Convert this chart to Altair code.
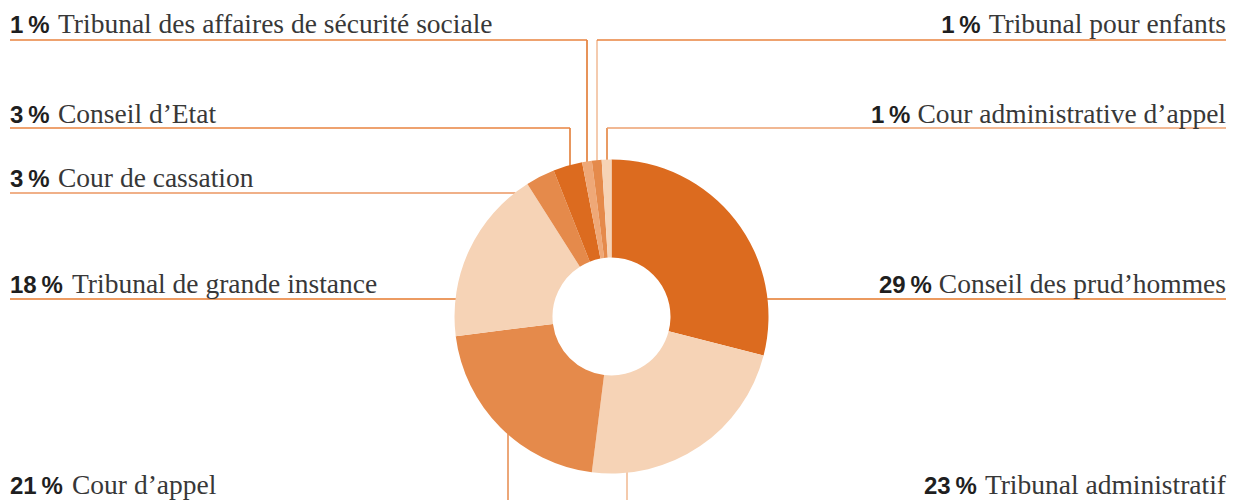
import math
import altair as alt
import pandas as pd

# ---------------- data ----------------
names = [
    "Conseil des prud’hommes",
    "Tribunal administratif",
    "Cour d’appel",
    "Tribunal de grande instance",
    "Cour de cassation",
    "Conseil d’Etat",
    "Tribunal des affaires de sécurité sociale",
    "Tribunal pour enfants",
    "Cour administrative d’appel",
]
pcts = [29, 23, 21, 18, 3, 3, 1, 1, 1]
slice_colors = ["#DC6B1F", "#F6D3B6", "#E58A4B", "#F6D3B6", "#E58A4B",
                "#DC6B1F", "#EFA877", "#E58A4B", "#F6D3B6"]

# ---------------- layout (page pixels) ----------------
CX, CY, R_OUT, R_IN = 611.5, 316.5, 157, 59
LEFT_X, RIGHT_X = 10, 1226
side = ["right", "right", "left", "left", "left", "left", "left", "right", "right"]
text_base = [293, 494, 494, 293, 187, 123, 33, 33, 123]
line_y = [299, 502, 502, 299, 193, 128, 40, 40, 128]
vert_x = [None, 627, 508, None, None, 570, 587, 597, 607]
h_colors = ["#E5782A", "#F1B68C", "#E68A4C", "#E67A2E", "#EB9660",
            "#E8833F", "#E8833F", "#E8833F", "#EDA06F"]
v_colors = ["#E5782A", "#F1B890", "#E68A4C", "#E67A2E", "#EB9660",
            "#E07428", "#DF6F22", "#F1BA94", "#E27A30"]
REG_SIZE = 27.5
GAP = 7

# Times-compatible advance widths (per 1000 em) for Liberation Serif
TW = {" ": 250, "’": 333, "A": 722, "C": 667, "E": 611, "T": 611, "a": 444, "b": 500,
      "c": 444, "d": 500, "e": 444, "f": 333, "g": 500, "h": 500, "i": 278, "l": 278,
      "m": 778, "n": 500, "o": 500, "p": 500, "r": 333, "s": 389, "t": 278, "u": 500,
      "v": 500, "é": 444}


def text_width(s, size):
    return sum(TW.get(ch, 500) for ch in s) * size / 1000.0


W, H = 1222, 500
xs = alt.Scale(domain=[8, 8 + W], nice=False, zero=False)
ys = alt.Scale(domain=[8, 8 + H], nice=False, zero=False, reverse=True)

slices = pd.DataFrame({"name": names, "pct": pcts, "idx": list(range(len(names)))})

segs = []
for i in range(len(names)):
    ly = line_y[i]
    if vert_x[i] is None:
        dx = math.sqrt(R_OUT ** 2 - (ly - CY) ** 2) - 1
        if side[i] == "left":
            segs.append(dict(x=LEFT_X, y=ly, x2=CX - dx, y2=ly, c=h_colors[i]))
        else:
            segs.append(dict(x=CX + dx, y=ly, x2=RIGHT_X, y2=ly, c=h_colors[i]))
    else:
        vx = vert_x[i]
        dy = math.sqrt(R_OUT ** 2 - (vx - CX) ** 2) - 1
        ey = CY - dy if ly < CY else CY + dy
        segs.append(dict(x=vx, y=ly, x2=vx, y2=ey, c=v_colors[i]))
        if side[i] == "left":
            segs.append(dict(x=LEFT_X, y=ly, x2=vx, y2=ly, c=h_colors[i]))
        else:
            segs.append(dict(x=vx, y=ly, x2=RIGHT_X, y2=ly, c=h_colors[i]))
segs = pd.DataFrame(segs)

left_rows, right_rows = [], []
for i in range(len(names)):
    b = f"{pcts[i]}\u2009%"
    if side[i] == "left":
        left_rows.append(dict(bx=LEFT_X, rx=LEFT_X + (48 if pcts[i] < 10 else 62),
                              y=text_base[i], b=b, t=names[i]))
    else:
        bx = RIGHT_X - text_width(names[i], REG_SIZE) - GAP
        right_rows.append(dict(bx=bx, rx=RIGHT_X, y=text_base[i], b=b, t=names[i]))
left_df = pd.DataFrame(left_rows)
right_df = pd.DataFrame(right_rows)

arc = alt.Chart(slices).mark_arc(radius=R_OUT, radius2=R_IN).encode(
    theta=alt.Theta("pct:Q", stack=True),
    order=alt.Order("idx:Q"),
    color=alt.Color("name:N", scale=alt.Scale(domain=names, range=slice_colors), legend=None),
    x=alt.value(CX - 8),
    y=alt.value(CY - 8),
)

lines = alt.Chart(segs).mark_rule(strokeWidth=1.5).encode(
    x=alt.X("x:Q", scale=xs, axis=None),
    y=alt.Y("y:Q", scale=ys, axis=None),
    x2="x2:Q",
    y2="y2:Q",
    color=alt.Color("c:N", scale=None),
)

REG = dict(font="Liberation Serif", fontSize=REG_SIZE, baseline="alphabetic", color="#383838")
BOLD = dict(font="Liberation Sans", fontSize=24, fontWeight="bold", baseline="alphabetic", color="#1f1f1f")

lb = alt.Chart(left_df).mark_text(align="left", **BOLD).encode(
    x=alt.X("bx:Q", scale=xs, axis=None), y=alt.Y("y:Q", scale=ys, axis=None), text="b:N")
lt = alt.Chart(left_df).mark_text(align="left", **REG).encode(
    x=alt.X("rx:Q", scale=xs, axis=None), y=alt.Y("y:Q", scale=ys, axis=None), text="t:N")
rb = alt.Chart(right_df).mark_text(align="right", **BOLD).encode(
    x=alt.X("bx:Q", scale=xs, axis=None), y=alt.Y("y:Q", scale=ys, axis=None), text="b:N")
rt = alt.Chart(right_df).mark_text(align="right", **REG).encode(
    x=alt.X("rx:Q", scale=xs, axis=None), y=alt.Y("y:Q", scale=ys, axis=None), text="t:N")

chart = alt.layer(lines, arc, lb, lt, rb, rt).properties(
    width=W, height=H, padding=0, autosize=alt.AutoSizeParams(type="none"),
    background="white",
).configure_view(stroke=None)

chart.save("out.html", embed_options={"renderer": "svg", "actions": False})
